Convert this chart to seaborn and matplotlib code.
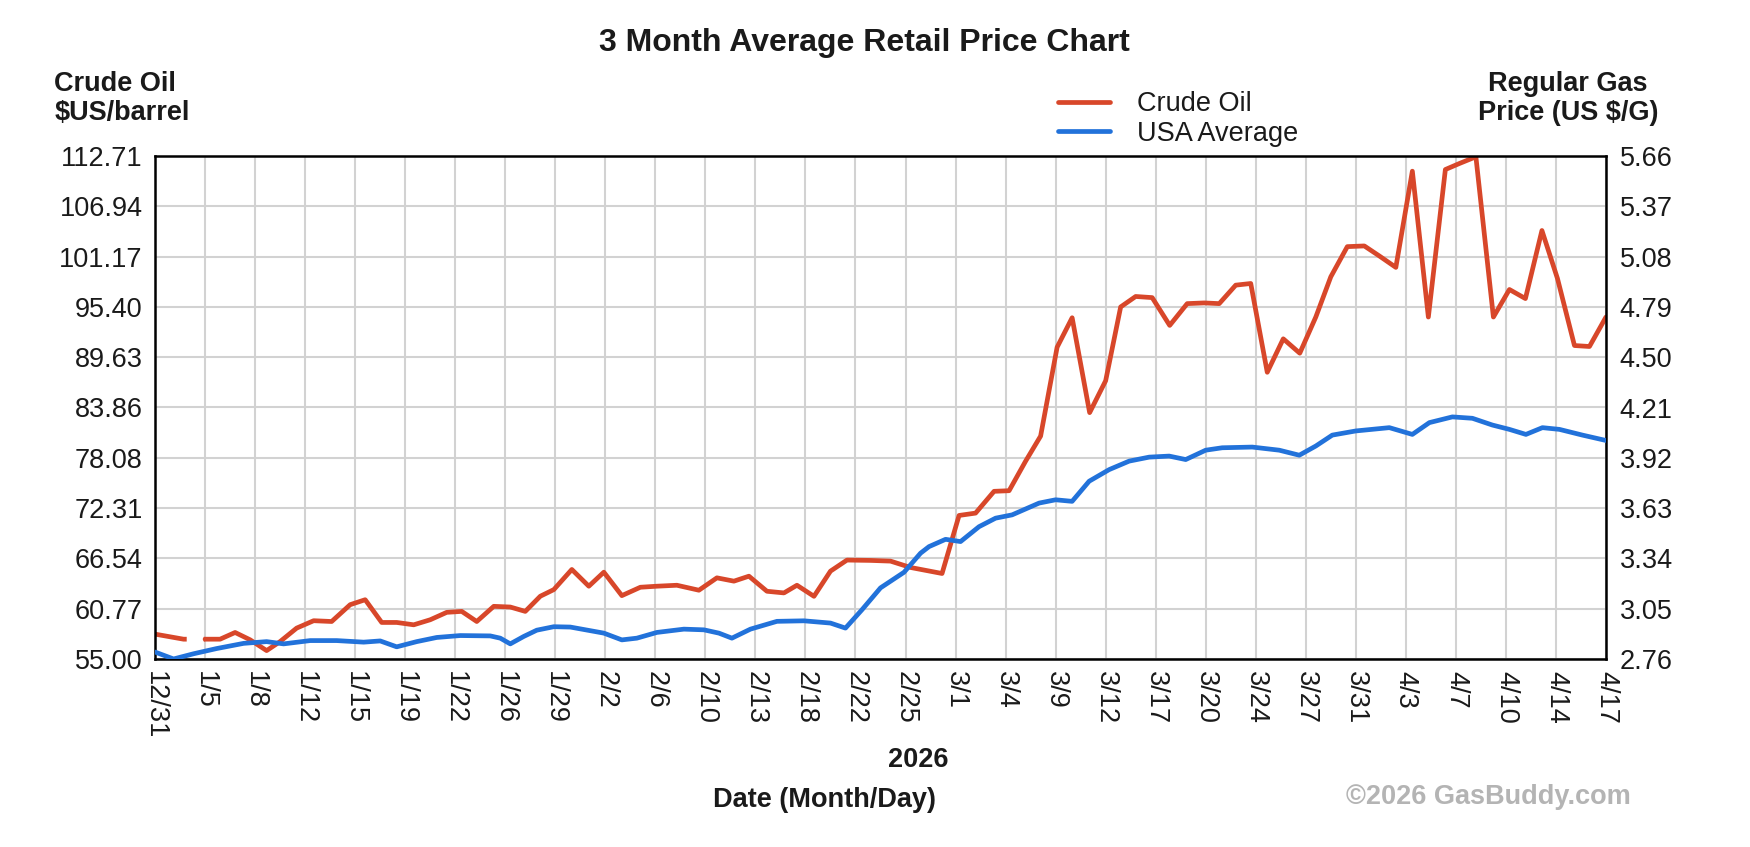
import pandas as pd
import matplotlib
matplotlib.use("Agg")
import matplotlib.pyplot as plt
import seaborn as sns
from matplotlib.lines import Line2D

# Date tick labels (evenly spaced slots on the x axis)
date_labels = ["12/31", "1/5", "1/8", "1/12", "1/15", "1/19", "1/22", "1/26", "1/29", "2/2",
               "2/6", "2/10", "2/13", "2/18", "2/22", "2/25", "3/1", "3/4", "3/9", "3/12",
               "3/17", "3/20", "3/24", "3/27", "3/31", "4/3", "4/7", "4/10", "4/14", "4/17"]

crude_ticks = ["55.00", "60.77", "66.54", "72.31", "78.08", "83.86", "89.63", "95.40", "101.17", "106.94", "112.71"]
gas_ticks = ["2.76", "3.05", "3.34", "3.63", "3.92", "4.21", "4.50", "4.79", "5.08", "5.37", "5.66"]

# Crude oil ($/barrel), x in date-slot units
crude_x = [0, 0.57, 1.0, 1.3, 1.6, 1.9, 2.23, 2.5, 2.83, 3.17, 3.53, 3.9, 4.2, 4.53, 4.83,
           5.17, 5.5, 5.83, 6.13, 6.43, 6.77, 7.1, 7.4, 7.7, 7.97, 8.33, 8.67, 8.97, 9.33, 9.7,
           10.03, 10.43, 10.87, 11.23, 11.57, 11.87, 12.23, 12.57, 12.83, 13.17, 13.5, 13.83,
           14.3, 14.7, 15.1, 15.73, 16.07, 16.4, 16.77, 17.07, 17.4, 17.7, 18.03, 18.33, 18.68,
           19.0, 19.3, 19.6, 19.93, 20.28, 20.63, 20.97, 21.27, 21.6, 21.9, 22.23, 22.55, 22.88,
           23.2, 23.5, 23.83, 24.17, 24.47, 24.8, 25.13, 25.45, 25.79, 26.07, 26.4, 26.75,
           27.07, 27.39, 27.72, 28.03, 28.37, 28.67, 29.0]
crude_y = [57.85, 57.27, 57.27, 57.27, 58.04, 57.2, 55.96, 57.0, 58.54, 59.39, 59.3, 61.23, 61.8, 59.19, 59.19,
           58.92, 59.5, 60.35, 60.46, 59.3, 61.04, 60.96, 60.46, 62.2, 62.96, 65.27, 63.35, 64.96, 62.27, 63.23,
           63.35, 63.46, 62.89, 64.31, 63.93, 64.5, 62.77, 62.58, 63.46, 62.19, 65.08, 66.35,
           66.31, 66.23, 65.5, 64.81, 71.47, 71.74, 74.24, 74.31, 77.7, 80.58, 90.78, 94.16, 83.27,
           86.93, 95.4, 96.6, 96.47, 93.28, 95.78, 95.86, 95.78, 97.9, 98.09, 87.9, 91.74, 90.09,
           94.24, 98.86, 102.32, 102.4, 101.25, 99.94, 110.98, 94.24, 111.17, 111.86, 112.63, 94.24,
           97.4, 96.36, 104.17, 98.67, 90.97, 90.86, 94.24]

# USA average regular gas ($/gal)
gas_x = [0, 0.37, 0.77, 1.23, 1.77, 2.23, 2.57, 3.1, 3.63, 4.17, 4.5, 4.83, 5.23, 5.63, 6.1,
         6.7, 6.9, 7.1, 7.37, 7.63, 7.97, 8.3, 8.97, 9.33, 9.63, 10.03, 10.57, 10.97, 11.27,
         11.53, 11.9, 12.43, 12.97, 13.5, 13.8, 14.13, 14.5, 14.97, 15.3, 15.47, 15.8, 16.1,
         16.47, 16.8, 17.13, 17.67, 18.0, 18.33, 18.67, 19.07, 19.47, 19.87, 20.27, 20.6, 21.0,
         21.33, 21.93, 22.47, 22.87, 23.2, 23.53, 24.0, 24.67, 25.13, 25.47, 25.93, 26.33,
         26.73, 27.07, 27.4, 27.73, 28.07, 28.53, 29.0]
gas_y = [2.80, 2.76, 2.79, 2.82, 2.85, 2.86, 2.847, 2.866, 2.866, 2.857, 2.864, 2.83, 2.86, 2.884, 2.895,
         2.893, 2.88, 2.847, 2.89, 2.926, 2.946, 2.944, 2.909, 2.87, 2.88, 2.913, 2.932, 2.928, 2.909,
         2.88, 2.932, 2.977, 2.98, 2.967, 2.938, 3.044, 3.17, 3.26, 3.37, 3.408, 3.45, 3.437,
         3.523, 3.572, 3.591, 3.659, 3.678, 3.669, 3.785, 3.852, 3.901, 3.924, 3.93, 3.91, 3.964,
         3.978, 3.982, 3.964, 3.935, 3.988, 4.051, 4.075, 4.094, 4.055, 4.123, 4.156, 4.148,
         4.109, 4.084, 4.055, 4.094, 4.084, 4.051, 4.02]

CRUDE_COLOR = "#D8472A"
GAS_COLOR = "#2272DA"
TEXT_COLOR = "#1a1a1a"
LW = 3.4

sns.set_theme(style="white")
plt.rcParams['font.family'] = ['Liberation Sans', 'DejaVu Sans']
FS = 19.5

df_crude = pd.DataFrame({"x": crude_x, "y": crude_y})
df_gas = pd.DataFrame({"x": gas_x, "y": gas_y})
df_dash = df_crude[df_crude["x"] <= 1.0]
df_solid = df_crude[df_crude["x"] >= 1.0]

fig = plt.figure(figsize=(17.5, 8.47), dpi=100)
ax = fig.add_axes([0.0886, 0.222, 0.8291, 0.5937])
ax2 = ax.twinx()

# dashed stretch over the holiday gap, then the solid crude line
sns.lineplot(data=df_dash, x="x", y="y", ax=ax, color=CRUDE_COLOR, linewidth=LW, legend=False)
ax.lines[-1].set_dashes([6.8, 3.6])
sns.lineplot(data=df_solid, x="x", y="y", ax=ax, color=CRUDE_COLOR, linewidth=LW, legend=False)
sns.lineplot(data=df_gas, x="x", y="y", ax=ax2, color=GAS_COLOR, linewidth=LW, legend=False)

ax.set_xlim(0, len(date_labels) - 1)
ax.set_ylim(float(crude_ticks[0]), float(crude_ticks[-1]))
ax2.set_ylim(float(gas_ticks[0]), float(gas_ticks[-1]))

ax.set_xticks(range(len(date_labels)))
ax.set_xticklabels(date_labels, rotation=270, fontsize=FS, color=TEXT_COLOR)
ax.set_yticks([float(t) for t in crude_ticks])
ax.set_yticklabels(crude_ticks, fontsize=FS, color=TEXT_COLOR)
ax2.set_yticks([float(t) for t in gas_ticks])
ax2.set_yticklabels(gas_ticks, fontsize=FS, color=TEXT_COLOR)

ax.tick_params(axis="x", length=0, pad=9)
ax.tick_params(axis="y", length=0, pad=9)
ax2.tick_params(axis="y", length=0, pad=10)
ax.set_xlabel("")
ax.set_ylabel("")
ax2.set_ylabel("")

ax.grid(True, color="#d2d2d2", linewidth=1.5)
ax.set_axisbelow(True)
ax2.grid(False)
for s in ax.spines.values():
    s.set_color("black")
    s.set_linewidth(1.8)
for s in ax2.spines.values():
    s.set_visible(False)

fig.text(0.494, 0.949, "3 Month Average Retail Price Chart", ha="center", va="center",
         fontsize=23, fontweight="bold", color=TEXT_COLOR)
fig.text(0.031, 0.9008, "Crude Oil", ha="left", va="center", fontsize=FS, fontweight="bold", color=TEXT_COLOR)
fig.text(0.031, 0.8666, "$US/barrel", ha="left", va="center", fontsize=FS, fontweight="bold", color=TEXT_COLOR)
fig.text(0.896, 0.9008, "Regular Gas", ha="center", va="center", fontsize=FS, fontweight="bold", color=TEXT_COLOR)
fig.text(0.896, 0.8666, "Price (US $/G)", ha="center", va="center", fontsize=FS, fontweight="bold", color=TEXT_COLOR)
fig.text(0.5246, 0.1027, "2026", ha="center", va="center", fontsize=FS, fontweight="bold", color=TEXT_COLOR)
fig.text(0.471, 0.056, "Date (Month/Day)", ha="center", va="center", fontsize=FS, fontweight="bold", color=TEXT_COLOR)
fig.text(0.932, 0.059, "\u00a92026 GasBuddy.com", ha="right", va="center", fontsize=FS, fontweight="bold", color="#b4b4b4")

handles = [Line2D([0], [0], color=CRUDE_COLOR, linewidth=LW),
           Line2D([0], [0], color=GAS_COLOR, linewidth=LW)]
fig.legend(handles, ["Crude Oil", "USA Average"], loc="center left", bbox_to_anchor=(0.6046, 0.8595),
           frameon=False, fontsize=FS, handlelength=1.9, handletextpad=1.0, labelspacing=0.12,
           borderpad=0, borderaxespad=0, labelcolor=TEXT_COLOR)

fig.savefig("out.png", dpi=100, facecolor="white")
